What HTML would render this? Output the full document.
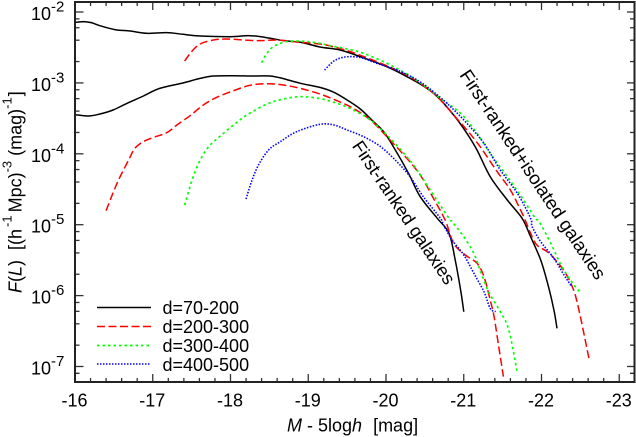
<!DOCTYPE html>
<html>
<head>
<meta charset="utf-8">
<style>
html,body{margin:0;padding:0;background:#fff;width:636px;height:437px;overflow:hidden}
svg{display:block}
text{font-family:"Liberation Sans",sans-serif;fill:#000}
</style>
</head>
<body>
<svg id="chart" width="636" height="437" viewBox="0 0 636 437" xmlns="http://www.w3.org/2000/svg">
<g id="series"></g>
<g id="ticks"></g>
<rect x="75" y="2" width="559.5" height="380" fill="none" stroke="#222" stroke-width="2"/>
<g id="ticklabels" font-size="18"></g>
<text x="287" y="431.5" font-size="18"><tspan font-style="italic">M</tspan> - 5log<tspan font-style="italic">h</tspan> <tspan dx="6">[mag]</tspan></text>
<text transform="translate(21.5,293) rotate(-90)" font-size="18"><tspan font-style="italic">F</tspan>(<tspan font-style="italic">L</tspan>) <tspan dx="5">[(h</tspan><tspan font-size="13" dy="-10" dx="2">-1</tspan><tspan dy="10" dx="3">Mpc)</tspan><tspan font-size="13" dy="-10">-3</tspan><tspan dy="10" dx="5">(mag)</tspan><tspan font-size="13" dy="-10">-1</tspan><tspan dy="10" dx="1">]</tspan></text>
<text transform="translate(351.5,146) rotate(56)" font-size="18.2">First-ranked galaxies</text>
<text transform="translate(459,75) rotate(56.3)" font-size="18.6">First-ranked+isolated galaxies</text>
<g>
<line x1="97" x2="151" y1="307.5" y2="307.5" stroke="#000" stroke-width="1.5"/>
<text x="162.5" y="314" font-size="18">d=70-200</text>
<line x1="97" x2="151" y1="326.5" y2="326.5" stroke="#f00" stroke-width="1.5" stroke-dasharray="8 3.5"/>
<text x="162.5" y="333" font-size="18">d=200-300</text>
<line x1="97" x2="151" y1="345.5" y2="345.5" stroke="#0f0" stroke-width="1.7" stroke-dasharray="2.5 3"/>
<text x="162.5" y="352" font-size="18">d=300-400</text>
<line x1="97" x2="151" y1="364" y2="364" stroke="#00f" stroke-width="1.6" stroke-dasharray="1.5 1.5"/>
<text x="162.5" y="371" font-size="18">d=400-500</text>
</g>
</svg>
<script>
const xTickLabels = [-16, -17, -18, -19, -20, -21, -22, -23];
const yTickExponents = [-2, -3, -4, -5, -6, -7];
const yMinorMantissas = [2, 4, 6, 8];

const isoBlackM = [-16,-16.11,-16.21,-16.32,-16.52,-16.71,-16.92,-17.18,-17.39,-17.61,-18,-18.25,-18.47,-18.68,-18.9,-19.15,-19.41,-19.67,-20.01,-20.27,-20.48,-20.66,-20.87,-21.04,-21.17,-21.34,-21.56,-21.75,-21.86,-21.99,-22.09,-22.16,-22.2];
const isoBlackLogF = [-2.146,-2.136,-2.15,-2.193,-2.25,-2.268,-2.3,-2.29,-2.315,-2.339,-2.348,-2.334,-2.362,-2.404,-2.428,-2.494,-2.536,-2.63,-2.771,-2.912,-3.044,-3.194,-3.453,-3.711,-3.946,-4.322,-4.652,-4.91,-5.169,-5.498,-5.874,-6.203,-6.462];
const isoRedM = [-17.41,-17.5,-17.61,-17.78,-17.95,-18.17,-18.38,-18.6,-18.81,-19.15,-19.37,-19.58,-19.88,-20.18,-20.44,-20.66,-20.87,-21.04,-21.21,-21.43,-21.6,-21.73,-21.79,-21.86,-21.94,-22.07,-22.18,-22.31,-22.42,-22.5,-22.61];
const isoRedLogF = [-2.691,-2.559,-2.451,-2.395,-2.381,-2.395,-2.404,-2.395,-2.418,-2.451,-2.503,-2.574,-2.7,-2.842,-3.006,-3.194,-3.453,-3.664,-3.899,-4.252,-4.511,-4.793,-4.934,-5.122,-5.287,-5.38,-5.498,-5.686,-5.945,-6.297,-6.885];
const isoGreenM = [-18.4,-18.47,-18.55,-18.68,-18.81,-18.98,-19.15,-19.28,-19.5,-19.71,-20.01,-20.27,-20.48,-20.7,-20.96,-21.17,-21.34,-21.56,-21.77,-21.92,-21.97,-22.12,-22.24,-22.37,-22.49];
const isoGreenLogF = [-2.715,-2.583,-2.489,-2.428,-2.409,-2.418,-2.442,-2.475,-2.522,-2.583,-2.724,-2.874,-3.03,-3.218,-3.429,-3.711,-3.993,-4.322,-4.652,-4.91,-4.957,-5.263,-5.545,-5.78,-5.945];
const isoBlueM = [-19.21,-19.33,-19.45,-19.58,-19.71,-19.88,-20.14,-20.4,-20.61,-20.83,-21.04,-21.26,-21.47,-21.69,-21.86,-21.88,-21.99,-22.16,-22.29,-22.39];
const isoBlueLogF = [-2.818,-2.691,-2.639,-2.63,-2.653,-2.724,-2.818,-2.959,-3.124,-3.335,-3.57,-3.852,-4.228,-4.558,-4.91,-5.028,-5.24,-5.474,-5.71,-5.874];

const rankBlackM = [-16,-16.17,-16.32,-16.49,-16.67,-16.88,-17.09,-17.39,-17.61,-17.78,-18.04,-18.3,-18.51,-18.68,-18.9,-19.15,-19.33,-19.5,-19.67,-19.84,-19.97,-20.12,-20.29,-20.44,-20.66,-20.81,-20.89,-20.96,-21];
const rankBlackLogF = [-3.448,-3.467,-3.439,-3.382,-3.288,-3.185,-3.077,-3.001,-2.936,-2.903,-2.898,-2.903,-2.903,-2.94,-3.006,-3.063,-3.133,-3.241,-3.368,-3.547,-3.688,-3.946,-4.275,-4.605,-4.91,-5.122,-5.498,-5.921,-6.227];
const rankRedM = [-16.4,-16.47,-16.56,-16.69,-16.77,-16.88,-17.01,-17.18,-17.31,-17.48,-17.65,-17.82,-18.04,-18.25,-18.47,-18.68,-18.9,-19.15,-19.37,-19.58,-19.8,-20.01,-20.23,-20.44,-20.61,-20.76,-20.87,-21.02,-21.17,-21.26,-21.34,-21.39,-21.45,-21.51];
const rankRedLogF = [-4.802,-4.605,-4.37,-4.087,-3.923,-3.829,-3.768,-3.702,-3.594,-3.462,-3.312,-3.204,-3.11,-3.034,-3.011,-3.03,-3.077,-3.157,-3.251,-3.359,-3.523,-3.758,-4.017,-4.299,-4.628,-4.934,-5.263,-5.427,-5.545,-5.733,-6.062,-6.297,-6.72,-7.143];
const rankGreenM = [-17.41,-17.46,-17.52,-17.61,-17.72,-17.87,-18.04,-18.21,-18.47,-18.68,-18.9,-19.15,-19.37,-19.58,-19.8,-20.01,-20.23,-20.4,-20.57,-20.81,-20.85,-21,-21.13,-21.21,-21.32,-21.47,-21.58,-21.69];
const rankGreenLogF = [-4.722,-4.534,-4.323,-4.087,-3.899,-3.749,-3.594,-3.453,-3.298,-3.227,-3.194,-3.222,-3.288,-3.382,-3.523,-3.735,-3.993,-4.228,-4.511,-4.91,-4.957,-5.169,-5.404,-5.639,-5.945,-6.227,-6.485,-7.096];
const rankBlueM = [-18.2,-18.27,-18.36,-18.49,-18.64,-18.85,-19.15,-19.33,-19.5,-19.71,-19.93,-20.14,-20.31,-20.48,-20.7,-20.74,-20.85,-21,-21.13,-21.26,-21.34,-21.41];
const rankBlueLogF = [-4.637,-4.393,-4.158,-3.946,-3.829,-3.688,-3.584,-3.594,-3.664,-3.758,-3.899,-4.111,-4.323,-4.605,-4.91,-5.004,-5.216,-5.427,-5.686,-5.945,-6.18,-6.227];

const NS = 'http://www.w3.org/2000/svg';
function xScale(m) { return 75 + (-16 - m) * 77.75; }
function yScale(logF) { return 12 + (-2 - logF) * 70.9; }

const seriesLayer = document.getElementById('series');
const tickLayer = document.getElementById('ticks');
const labelLayer = document.getElementById('ticklabels');

function smoothPath(ms, logs) {
  const pts = ms.map((m, i) => [xScale(m), yScale(logs[i])]);
  let d = 'M' + pts[0][0].toFixed(1) + ' ' + pts[0][1].toFixed(1);
  for (let i = 0; i < pts.length - 1; i++) {
    const p0 = pts[Math.max(i - 1, 0)];
    const p1 = pts[i];
    const p2 = pts[i + 1];
    const p3 = pts[Math.min(i + 2, pts.length - 1)];
    const c1x = p1[0] + (p2[0] - p0[0]) / 6;
    const c1y = p1[1] + (p2[1] - p0[1]) / 6;
    const c2x = p2[0] - (p3[0] - p1[0]) / 6;
    const c2y = p2[1] - (p3[1] - p1[1]) / 6;
    d += 'C' + c1x.toFixed(1) + ' ' + c1y.toFixed(1) + ' ' + c2x.toFixed(1) + ' ' + c2y.toFixed(1) + ' ' + p2[0].toFixed(1) + ' ' + p2[1].toFixed(1);
  }
  return d;
}

function drawSeries(name, ms, logs, color, dash, width) {
  const p = document.createElementNS(NS, 'path');
  
  
  p.setAttribute('d', smoothPath(ms, logs));
  p.setAttribute('fill', 'none');
  p.setAttribute('stroke', color);
  p.setAttribute('stroke-width', width);
  p.setAttribute('stroke-linejoin', 'round');
  if (dash) p.setAttribute('stroke-dasharray', dash);
  seriesLayer.appendChild(p);
}

drawSeries('series-isolated-d70-200', isoBlackM, isoBlackLogF, '#000', '', '1.5');
drawSeries('series-isolated-d200-300', isoRedM, isoRedLogF, '#f00', '8 3.5', '1.5');
drawSeries('series-isolated-d300-400', isoGreenM, isoGreenLogF, '#0f0', '2.5 3', '1.7');
drawSeries('series-isolated-d400-500', isoBlueM, isoBlueLogF, '#00f', '1.5 1.5', '1.6');
drawSeries('series-ranked-d70-200', rankBlackM, rankBlackLogF, '#000', '', '1.5');
drawSeries('series-ranked-d200-300', rankRedM, rankRedLogF, '#f00', '8 3.5', '1.5');
drawSeries('series-ranked-d300-400', rankGreenM, rankGreenLogF, '#0f0', '2.5 3', '1.7');
drawSeries('series-ranked-d400-500', rankBlueM, rankBlueLogF, '#00f', '1.5 1.5', '1.6');

function drawTick(name, x1, y1, x2, y2) {
  const l = document.createElementNS(NS, 'line');
  
  
  l.setAttribute('x1', x1);
  l.setAttribute('y1', y1);
  l.setAttribute('x2', x2);
  l.setAttribute('y2', y2);
  l.setAttribute('stroke', '#333');
  l.setAttribute('stroke-width', '1.3');
  tickLayer.appendChild(l);
}

xTickLabels.forEach(function (v) {
  const x = xScale(v);
  drawTick('x-major-tick', x, 382, x, 374);
  drawTick('x-major-tick-top', x, 2, x, 10);
  const t = document.createElementNS(NS, 'text');
  
  
  t.setAttribute('x', x - 0.5);
  t.setAttribute('y', 406.5);
  t.setAttribute('text-anchor', 'middle');
  t.textContent = String(v);
  labelLayer.appendChild(t);
  if (v > -23) {
    for (let k = 1; k < 5; k++) {
      const xm = xScale(v - k * 0.2);
      drawTick('x-minor-tick', xm, 382, xm, 378);
      drawTick('x-minor-tick-top', xm, 2, xm, 6);
    }
  }
});

function drawMinorY(logVal) {
  const y = yScale(logVal);
  if (y <= 3 || y >= 381) return;
  drawTick('y-minor-tick', 75, y, 79.5, y);
  drawTick('y-minor-tick-right', 634.5, y, 630, y);
}

yTickExponents.forEach(function (e) {
  const y = yScale(e);
  drawTick('y-major-tick', 75, y, 83.5, y);
  drawTick('y-major-tick-right', 634.5, y, 627, y);
  const t = document.createElementNS(NS, 'text');
  
  
  t.setAttribute('x', 31);
  t.setAttribute('y', y + 8);
  t.textContent = '10';
  const s = document.createElementNS(NS, 'tspan');
  s.setAttribute('font-size', '15');
  s.setAttribute('dy', '-8.5');
  s.textContent = String(e);
  t.appendChild(s);
  labelLayer.appendChild(t);
  yMinorMantissas.forEach(function (m) {
    drawMinorY(e - 1 + Math.log10(m));
  });
});
yMinorMantissas.forEach(function (m) { drawMinorY(-8 + Math.log10(m)); });
</script>
</body>
</html>
